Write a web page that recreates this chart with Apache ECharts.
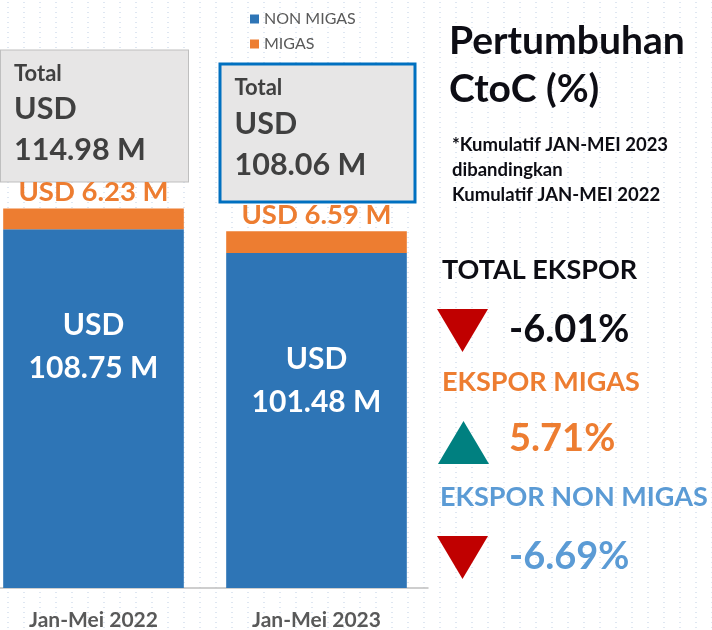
<!DOCTYPE html>
<html>
<head>
<meta charset="utf-8">
<script src="https://cdn.jsdelivr.net/npm/echarts@6/dist/echarts.min.js"></script>
<style>
  html, body { margin: 0; padding: 0; background: #fff; }
  #chart {
    width: 712px; height: 630px;
    background-color: #fff;
    background-image: radial-gradient(circle, #dfe7f2 0.9px, transparent 1.1px);
    background-size: 16px 5px;
  }
</style>
</head>
<body>
<div id="chart"></div>
<script>
const categories = ['Jan-Mei 2022', 'Jan-Mei 2023']
const nonMigas = [108.75, 101.48]
const migas = [6.23, 6.59]
const totals = [114.98, 108.06]
const growthTitles = ['TOTAL EKSPOR', 'EKSPOR MIGAS', 'EKSPOR NON MIGAS']
const growthValues = [-6.01, 5.71, -6.69]

const FONT = 'Lato'
const BLUE = '#2E75B6'
const ORANGE = '#ED7D31'

const chart = echarts.init(document.getElementById('chart'))

// right-hand panel with growth numbers
const growthColors = ['#0d0d14', ORANGE, '#5B9BD5']
const rowY = [273, 385, 500]
const panel = []
growthTitles.forEach((t, i) => {
  const y = rowY[i]
  const v = growthValues[i]
  panel.push({
    type: 'text', left: i === 2 ? 440 : 442, top: y - 16,
    style: { text: t, font: 'bold 27px ' + FONT, fill: growthColors[i] }
  })
  const ty = rowY[i] - 3 + 39
  const pts = v < 0
    ? [[437, ty], [488, ty], [462.5, ty + 43]]
    : [[438, ty + 43], [489, ty + 43], [463.5, ty]]
  panel.push({
    type: 'polygon',
    shape: { points: pts },
    style: { fill: v < 0 ? '#C00000' : '#008080' }
  })
  panel.push({
    type: 'text', left: 509, top: y + (i === 1 ? 35 : 38),
    style: {
      text: v.toFixed(2) + '%',
      font: 'bold 38px ' + FONT, fill: growthColors[i]
    }
  })
})

const barCommon = { barWidth: '81%', barGap: '-100%' }

chart.setOption({
  animation: false,
  legend: {
    data: ['NON MIGAS', 'MIGAS'],
    orient: 'vertical',
    left: 245,
    top: 6,
    icon: 'rect',
    itemWidth: 9,
    itemHeight: 9,
    itemGap: 9,
    textStyle: { fontFamily: FONT, fontSize: 16, color: '#595959' }
  },
  grid: { left: -18, width: 446, top: 159, bottom: 42, outerBoundsMode: 'none', containLabel: false },
  xAxis: {
    type: 'category',
    data: categories,
    axisTick: { show: false },
    axisLine: { lineStyle: { color: '#bfbfbf', width: 1.5 } },
    axisLabel: {
      margin: 22,
      fontFamily: FONT, fontSize: 21, fontWeight: 'bold', color: '#595959'
    }
  },
  yAxis: {
    type: 'value', min: 0, max: 130, show: false,
    splitLine: { show: false }
  },
  graphic: [
    {
      type: 'text', left: 449, top: 22,
      style: { text: 'Pertumbuhan', font: 'bold 39px ' + FONT, fill: '#0d0d14' }
    },
    {
      type: 'text', left: 449, top: 70,
      style: { text: 'CtoC (%)', font: 'bold 39px ' + FONT, fill: '#0d0d14' }
    },
    {
      type: 'text', left: 452, top: 133,
      style: {
        text: '*Kumulatif JAN-MEI 2023\ndibandingkan\nKumulatif JAN-MEI 2022',
        font: 'bold 18.5px ' + FONT, fill: '#0d0d14', lineHeight: 25
      }
    }
  ].concat(panel),
  series: [
    Object.assign({
      name: 'NON MIGAS',
      type: 'bar',
      stack: 'ekspor',
      itemStyle: { color: BLUE },
      data: nonMigas.map((v, i) => ({
        value: v,
        label: { offset: [0, i === 0 ? -62 : -40] }
      })),
      label: {
        show: true,
        position: 'inside',
        color: '#fff',
        fontFamily: FONT,
        fontSize: 30,
        fontWeight: 'bold',
        lineHeight: 43,
        formatter: p => 'USD\n' + p.value.toFixed(2) + ' M'
      }
    }, barCommon),
    Object.assign({
      name: 'MIGAS',
      type: 'bar',
      stack: 'ekspor',
      itemStyle: { color: ORANGE },
      data: migas,
      label: {
        show: true,
        position: 'top',
        distance: 2,
        color: ORANGE,
        fontFamily: FONT,
        fontSize: 27.5,
        fontWeight: 'bold',
        formatter: p => 'USD ' + p.value.toFixed(2) + ' M'
      }
    }, barCommon),
    Object.assign({
      name: 'Total',
      type: 'bar',
      z: 1,
      silent: true,
      itemStyle: { color: 'transparent' },
      data: totals.map((v, i) => ({
        value: v,
        label: i === 0
          ? { distance: 27, width: 161, height: 113, borderColor: '#bfbfbf', borderWidth: 1, offset: [1, 0] }
          : { distance: 31, width: 166, height: 117, borderColor: '#0070C0', borderWidth: 3, offset: [1, 0] }
      })),
      label: {
        show: true,
        position: 'top',
        backgroundColor: '#e7e6e6',
        padding: [8, 13, 10, 13],
        align: 'center',
        formatter: p => '{t|Total}\n{b|USD}\n{b|' + p.value.toFixed(2) + ' M}',
        rich: {
          t: { fontFamily: FONT, fontSize: 22, fontWeight: 'bold', color: '#404040', lineHeight: 30, align: 'left' },
          b: { fontFamily: FONT, fontSize: 30.5, fontWeight: 'bold', color: '#404040', lineHeight: 41, align: 'left' }
        }
      }
    }, barCommon)
  ]
})
</script>
</body>
</html>
